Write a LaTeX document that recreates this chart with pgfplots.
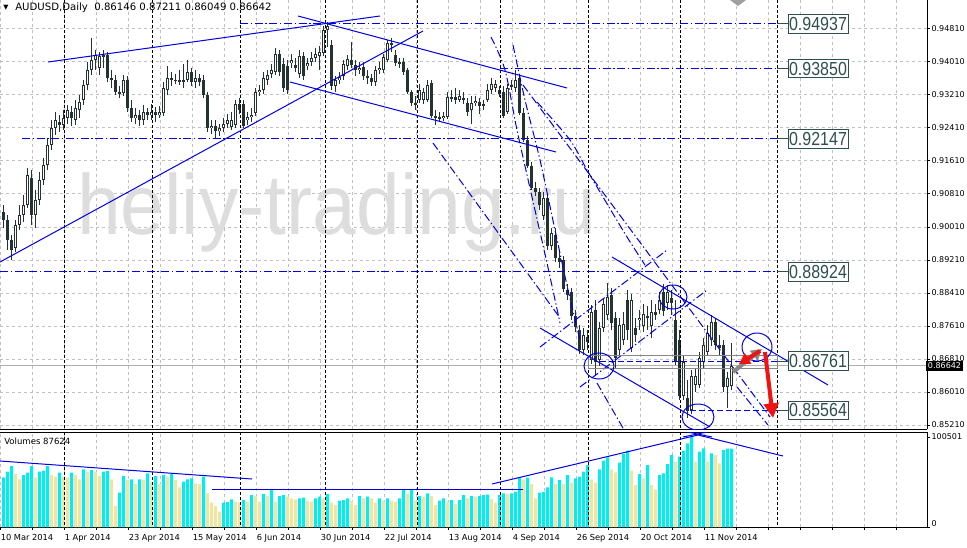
\documentclass[border=0pt]{standalone}
\usepackage{fontspec}
\setmainfont{DejaVu Sans}
\newfontfamily\lib{Liberation Sans}
\usepackage{pgfplots}
\usepackage{pgfplotstable}
\pgfplotsset{compat=1.18}
\usetikzlibrary{arrows.meta}
\definecolor{cndl}{RGB}{36,50,50}
\definecolor{gridc}{RGB}{192,192,192}
\definecolor{bl}{RGB}{0,0,225}
\definecolor{slate}{RGB}{47,79,79}
\definecolor{wmc}{RGB}{221,221,221}
\definecolor{vcy}{RGB}{0,238,238}
\definecolor{vkh}{RGB}{238,230,160}
\definecolor{arred}{RGB}{238,20,20}
\definecolor{argr}{RGB}{135,135,135}
\definecolor{cpl}{RGB}{175,175,175}
\tikzset{
 tl/.style={bl, line width=0.75pt},
 dd/.style={bl, line width=0.75pt, dash pattern=on 6pt off 2pt on 1pt off 2pt},
 dsh/.style={bl, line width=0.75pt, dash pattern=on 4.5pt off 2.25pt},
 sep/.style={black, line width=0.75pt, dash pattern=on 2.25pt off 1.5pt},
 lvbox/.style={draw=slate, line width=0.75pt, fill=white, text=slate, minimum width=45pt, minimum height=14pt, inner sep=0pt, font=\lib\fontsize{12}{12}\selectfont},
}
\newcommand\lv[1]{\scalebox{1}[1.18]{#1}}
\pgfplotsset{
 pxax/.style={scale only axis, width=695.25pt, anchor=south west},
}
\pgfplotstableread{
i o h l c v u
0 0.9037 0.9054 0.8998 0.9018 55428 1
1 0.9018 0.9030 0.8945 0.8969 61752 1
2 0.8969 0.8981 0.8921 0.8945 68076 1
3 0.8950 0.9018 0.8940 0.9006 59148 0
4 0.9006 0.9054 0.8993 0.9030 53196 0
5 0.9030 0.9078 0.9013 0.9054 58032 1
6 0.9054 0.9144 0.9047 0.9127 60636 1
7 0.9120 0.9139 0.9006 0.9030 68076 1
8 0.9030 0.9090 0.8998 0.9066 55428 0
9 0.9066 0.9134 0.9054 0.9115 61752 1
10 0.9115 0.9168 0.9103 0.9151 62868 1
11 0.9151 0.9216 0.9139 0.9200 68076 1
12 0.9200 0.9260 0.9187 0.9241 58032 0
13 0.9241 0.9280 0.9224 0.9260 56172 0
14 0.9255 0.9272 0.9231 0.9248 60636 1
15 0.9248 0.9284 0.9236 0.9265 56172 0
16 0.9265 0.9296 0.9250 0.9284 55428 0
17 0.9280 0.9294 0.9246 0.9265 60636 1
18 0.9260 0.9309 0.9248 0.9289 58032 0
19 0.9284 0.9321 0.9265 0.9304 53196 0
20 0.9309 0.9357 0.9296 0.9345 64356 1
21 0.9345 0.9401 0.9333 0.9381 61752 0
22 0.9381 0.9459 0.9369 0.9406 63612 1
23 0.9406 0.9430 0.9381 0.9418 61752 0
24 0.9386 0.9425 0.9369 0.9415 56916 0
25 0.9415 0.9430 0.9386 0.9418 61752 1
26 0.9418 0.9425 0.9352 0.9362 62496 1
27 0.9362 0.9381 0.9338 0.9357 53196 0
28 0.9357 0.9369 0.9321 0.9328 23436 0
29 0.9328 0.9343 0.9313 0.9326 38316 1
30 0.9326 0.9369 0.9318 0.9357 56916 1
31 0.9357 0.9367 0.9280 0.9289 52452 0
32 0.9289 0.9309 0.9255 0.9265 53196 1
33 0.9265 0.9289 0.9250 0.9272 47988 0
34 0.9272 0.9284 0.9246 0.9260 53196 1
35 0.9260 0.9296 0.9248 0.9280 52452 0
36 0.9280 0.9289 0.9260 0.9272 59892 1
37 0.9272 0.9299 0.9260 0.9280 50592 0
38 0.9280 0.9292 0.9255 0.9272 56916 1
39 0.9272 0.9294 0.9265 0.9280 47988 0
40 0.9277 0.9352 0.9270 0.9338 58032 1
41 0.9333 0.9391 0.9321 0.9362 56172 0
42 0.9362 0.9376 0.9343 0.9357 59148 1
43 0.9357 0.9372 0.9347 0.9356 52452 0
44 0.9357 0.9381 0.9345 0.9355 44268 0
45 0.9355 0.9396 0.9338 0.9357 50592 1
46 0.9357 0.9406 0.9352 0.9376 53196 1
47 0.9376 0.9386 0.9343 0.9352 54312 1
48 0.9352 0.9381 0.9338 0.9362 48732 0
49 0.9362 0.9372 0.9343 0.9352 47988 0
50 0.9357 0.9369 0.9313 0.9321 56172 1
51 0.9321 0.9328 0.9231 0.9241 37572 0
52 0.9241 0.9260 0.9226 0.9246 27156 0
53 0.9246 0.9260 0.9217 0.9233 23436 0
54 0.9233 0.9250 0.9221 0.9241 17112 0
55 0.9241 0.9265 0.9231 0.9250 27156 1
56 0.9250 0.9275 0.9241 0.9260 27900 1
57 0.9243 0.9280 0.9236 0.9260 30876 1
58 0.9248 0.9309 0.9241 0.9299 27900 0
59 0.9299 0.9313 0.9275 0.9284 27156 0
60 0.9299 0.9309 0.9241 0.9246 30132 1
61 0.9260 0.9280 0.9248 0.9267 28272 0
62 0.9267 0.9289 0.9255 0.9272 35712 1
63 0.9277 0.9338 0.9270 0.9328 34596 0
64 0.9328 0.9345 0.9318 0.9333 28272 0
65 0.9333 0.9376 0.9323 0.9362 36828 1
66 0.9357 0.9381 0.9345 0.9369 34596 0
67 0.9372 0.9396 0.9362 0.9381 41292 1
68 0.9376 0.9435 0.9369 0.9420 28272 0
69 0.9420 0.9430 0.9367 0.9376 34596 1
70 0.9396 0.9410 0.9328 0.9338 35712 1
71 0.9391 0.9406 0.9323 0.9333 33852 0
72 0.9398 0.9420 0.9386 0.9406 31992 0
73 0.9393 0.9410 0.9376 0.9386 30876 0
74 0.9372 0.9430 0.9362 0.9415 31992 1
75 0.9415 0.9425 0.9357 0.9367 32736 1
76 0.9391 0.9410 0.9381 0.9398 29016 0
77 0.9401 0.9425 0.9391 0.9410 28272 0
78 0.9410 0.9435 0.9401 0.9420 31992 1
79 0.9415 0.9440 0.9381 0.9425 33852 1
80 0.9423 0.9488 0.9415 0.9478 31992 0
81 0.9478 0.9498 0.9437 0.9488 36828 1
82 0.9442 0.9454 0.9333 0.9343 27156 0
83 0.9343 0.9367 0.9328 0.9357 24552 0
84 0.9357 0.9376 0.9347 0.9364 29388 1
85 0.9367 0.9406 0.9357 0.9396 30132 1
86 0.9391 0.9418 0.9381 0.9408 31992 1
87 0.9406 0.9449 0.9386 0.9393 29388 0
88 0.9393 0.9406 0.9367 0.9381 24552 0
89 0.9381 0.9401 0.9372 0.9386 34596 1
90 0.9389 0.9401 0.9357 0.9367 31992 0
91 0.9367 0.9381 0.9347 0.9362 33852 1
92 0.9362 0.9372 0.9343 0.9352 31992 0
93 0.9352 0.9391 0.9343 0.9381 27156 0
94 0.9381 0.9401 0.9372 0.9386 31992 1
95 0.9381 0.9420 0.9374 0.9413 29388 0
96 0.9406 0.9454 0.9401 0.9447 31992 1
97 0.9447 0.9459 0.9425 0.9442 29388 0
98 0.9418 0.9430 0.9391 0.9398 28272 0
99 0.9398 0.9410 0.9386 0.9401 31992 1
100 0.9401 0.9410 0.9369 0.9376 41292 1
101 0.9381 0.9386 0.9323 0.9328 37572 0
102 0.9328 0.9333 0.9294 0.9301 41292 1
103 0.9301 0.9318 0.9284 0.9296 29388 0
104 0.9309 0.9347 0.9301 0.9333 34596 1
105 0.9309 0.9338 0.9299 0.9328 33852 0
106 0.9309 0.9357 0.9304 0.9345 37572 1
107 0.9350 0.9357 0.9265 0.9270 34596 0
108 0.9270 0.9284 0.9248 0.9267 24552 0
109 0.9267 0.9280 0.9255 0.9265 29388 1
110 0.9265 0.9280 0.9258 0.9270 31992 1
111 0.9267 0.9328 0.9262 0.9316 28272 0
112 0.9313 0.9333 0.9304 0.9316 30132 1
113 0.9316 0.9338 0.9299 0.9309 25668 0
114 0.9309 0.9333 0.9304 0.9318 30132 1
115 0.9313 0.9328 0.9299 0.9311 35712 1
116 0.9301 0.9313 0.9270 0.9280 31992 0
117 0.9284 0.9318 0.9250 0.9301 34596 1
118 0.9301 0.9318 0.9294 0.9306 33852 0
119 0.9304 0.9313 0.9275 0.9294 34596 1
120 0.9299 0.9309 0.9284 0.9296 35712 1
121 0.9309 0.9347 0.9304 0.9333 36084 1
122 0.9333 0.9362 0.9323 0.9347 31248 0
123 0.9338 0.9357 0.9328 0.9347 27156 0
124 0.9333 0.9343 0.9316 0.9323 35712 1
125 0.9328 0.9343 0.9265 0.9270 37572 1
126 0.9280 0.9347 0.9275 0.9338 36828 0
127 0.9343 0.9357 0.9333 0.9345 37572 1
128 0.9338 0.9381 0.9328 0.9357 39432 1
129 0.9362 0.9372 0.9272 0.9277 55056 1
130 0.9277 0.9289 0.9207 0.9212 53196 0
131 0.9212 0.9221 0.9144 0.9149 55056 1
132 0.9149 0.9158 0.9090 0.9095 47988 0
133 0.9095 0.9110 0.9076 0.9086 31992 0
134 0.9086 0.9095 0.9042 0.9054 38316 1
135 0.9027 0.9086 0.9018 0.9071 39060 1
136 0.9071 0.9081 0.8945 0.8955 44268 1
137 0.8955 0.8998 0.8945 0.8986 55428 1
138 0.8981 0.8998 0.8916 0.8926 47988 0
139 0.8926 0.8940 0.8901 0.8916 52452 1
140 0.8921 0.8930 0.8843 0.8850 47988 0
141 0.8848 0.8863 0.8824 0.8836 58032 1
142 0.8843 0.8853 0.8775 0.8785 49476 0
143 0.8785 0.8800 0.8746 0.8758 54312 1
144 0.8751 0.8763 0.8693 0.8703 56172 1
145 0.8703 0.8756 0.8691 0.8739 61752 1
146 0.8734 0.8751 0.8703 0.8722 69192 1
147 0.8678 0.8812 0.8669 0.8795 53196 0
148 0.8800 0.8824 0.8642 0.8673 49476 0
149 0.8678 0.8770 0.8664 0.8756 64356 1
150 0.8756 0.8829 0.8746 0.8814 74028 1
151 0.8787 0.8865 0.8775 0.8831 77748 1
152 0.8836 0.8853 0.8751 0.8768 64356 0
153 0.8780 0.8795 0.8659 0.8683 61008 0
154 0.8703 0.8780 0.8688 0.8763 71796 1
155 0.8727 0.8795 0.8715 0.8766 81468 1
156 0.8824 0.8848 0.8727 0.8751 85188 1
157 0.8707 0.8838 0.8698 0.8824 62868 0
158 0.8756 0.8780 0.8722 0.8739 46872 0
159 0.8775 0.8800 0.8751 0.8780 59148 1
160 0.8761 0.8814 0.8746 0.8790 54312 0
161 0.8785 0.8809 0.8751 0.8780 69192 1
162 0.8761 0.8824 0.8732 0.8795 46872 0
163 0.8795 0.8814 0.8775 0.8787 42036 0
164 0.8800 0.8843 0.8790 0.8824 58032 1
165 0.8843 0.8863 0.8785 0.8797 59892 1
166 0.8817 0.8860 0.8800 0.8843 70308 1
167 0.8829 0.8848 0.8787 0.8817 80352 1
168 0.8775 0.8824 0.8666 0.8673 72912 0
169 0.8727 0.8751 0.8582 0.8591 78492 1
170 0.8591 0.8690 0.8582 0.8673 85188 1
171 0.8586 0.8630 0.8538 0.8555 93372 1
172 0.8557 0.8654 0.8547 0.8640 100501 1
173 0.8618 0.8659 0.8601 0.8640 72912 0
174 0.8618 0.8698 0.8610 0.8683 84072 1
175 0.8673 0.8732 0.8659 0.8715 87792 1
176 0.8698 0.8763 0.8688 0.8744 72912 0
177 0.8727 0.8787 0.8712 0.8770 82212 1
178 0.8770 0.8780 0.8703 0.8715 80352 0
179 0.8715 0.8739 0.8691 0.8707 71052 0
180 0.8715 0.8727 0.8601 0.8613 85932 1
181 0.8613 0.8649 0.8562 0.8635 87420 1
182 0.86146 0.87211 0.86049 0.86642 87624 1
}\data
\begin{document}
\begin{tikzpicture}
\useasboundingbox (0,0) rectangle (725.25pt,410.25pt);

% ---------- price panel ----------
\begin{axis}[pxax, at={(0pt,88.5pt)}, height=321.75pt,
 xmin=-0.875, xmax=230.875, ymin=0.85113, ymax=0.95513,
 axis x line*=bottom, axis y line*=right,
 axis line style={black, line width=0.75pt},
 xtick={-0.75,7.25,...,223.25}, xticklabels={}, major x tick style={draw=none},
 ytick={0.8521,0.8601,0.8681,0.8761,0.8841,0.8921,0.9001,0.9081,0.9161,0.9241,0.9321,0.9401,0.9481},
 grid=major, grid style={gridc, line width=0.75pt, dash pattern=on 2.25pt off 2.25pt},
 tick align=outside, major tick length=2.25pt, tick style={black, line width=0.75pt},
 y tick label style={font=\fontsize{6}{7}\selectfont, inner xsep=1pt, /pgf/number format/fixed, /pgf/number format/fixed zerofill, /pgf/number format/precision=5, /pgf/number format/assume math mode=true},
 scaled y ticks=false,
 extra y ticks={0.86642},
 extra y tick style={grid=major, major grid style={solid, cpl, line width=0.75pt}, major tick length=0pt,
   y tick label style={fill=black, text=white, inner xsep=1.5pt, inner ysep=1.8pt, anchor=west, xshift=-1pt}},
]
\node[anchor=base west, inner sep=0pt, text=wmc, font=\lib\fontsize{64}{64}\selectfont, xscale=0.92] at (axis cs:18.375,0.8984) {heliy-trading.ru};
% wicks
\addplot[draw=none, no markers, forget plot, error bars/.cd, y dir=both, y explicit, error mark=none,
  error bar style={draw=cndl, line width=0.75pt}]
  table[x=i, y expr=(\thisrow{h}+\thisrow{l})/2, y error expr=(\thisrow{h}-\thisrow{l})/2] {\data};
% bodies
\addplot[draw=none, no markers, forget plot, error bars/.cd, y dir=both, y explicit, error mark=none,
  error bar style={draw=cndl, line width=2.4pt}]
  table[x=i, y expr=(\thisrow{o}+\thisrow{c})/2, y error expr={max(abs(\thisrow{o}-\thisrow{c})/2,0.00012)}] {\data};
% hollow bull bodies
\addplot[draw=none, no markers, forget plot, error bars/.cd, y dir=both, y explicit, error mark=none,
  error bar style={draw=white, line width=0.9pt}]
  table[x=i, y expr=(\thisrow{o}+\thisrow{c})/2, y error expr={max((\thisrow{c}-\thisrow{o})/2-0.00024,0)}] {\data};
\end{axis}

% ---------- volume panel ----------
\begin{axis}[pxax, at={(0pt,15pt)}, height=71.25pt,
 xmin=-0.875, xmax=230.875, ymin=0, ymax=106086,
 axis x line*=box, axis y line*=right, xtick pos=left,
 axis line style={black, line width=0.75pt},
 xtick={-0.75,7.25,...,223.25},
 xticklabels={10 Mar 2014,,1 Apr 2014,,23 Apr 2014,,15 May 2014,,6 Jun 2014,,30 Jun 2014,,22 Jul 2014,,13 Aug 2014,,4 Sep 2014,,26 Sep 2014,,20 Oct 2014,,11 Nov 2014,,,,,,},
 x tick label style={anchor=north west, inner xsep=0pt, font=\fontsize{6.2}{7.5}\selectfont},
 ytick={0,100501}, yticklabels={\raisebox{4.5pt}{0},100501}, scaled y ticks=false,
 y tick label style={font=\fontsize{6}{7}\selectfont, inner xsep=1pt},
 xmajorgrids, grid style={gridc, line width=0.75pt, dash pattern=on 2.25pt off 2.25pt},
 tick align=outside, major tick length=2.25pt, tick style={black, line width=0.75pt},
]
\addplot[ybar, bar width=2.25pt, bar shift=0pt, fill=vcy, draw=none, forget plot]
  table[x=i, y expr=\thisrow{v}*\thisrow{u}] {\data};
\addplot[ybar, bar width=2.25pt, bar shift=0pt, fill=vkh, draw=none, forget plot]
  table[x=i, y expr=\thisrow{v}*(1-\thisrow{u})] {\data};
\end{axis}

% ---------- drawings on price panel (pixel frame) ----------
\begin{axis}[pxax, at={(0pt,88.5pt)}, height=321.75pt,
 xmin=0, xmax=927, ymin=0, ymax=429, y dir=reverse, hide axis]
\pgfplotsinvokeforeach{64.3,152.3,240.7,325,417,500,588,680,777}{\draw[sep] (axis cs:#1,0) -- (axis cs:#1,429);}
\node[anchor=west, inner sep=0pt, font=\fontsize{5}{5}\selectfont] at (axis cs:3,8) {▼};
\node[anchor=west, inner sep=0pt, font=\fontsize{7.6}{8}\selectfont] at (axis cs:15,8) {AUDUSD,Daily\ \ 0.86146 0.87211 0.86049 0.86642};
\fill[argr!80] (axis cs:730,0) -- (axis cs:746,0) -- (axis cs:738,6) -- cycle;
% trend lines
\draw[tl] (axis cs:48,62) -- (axis cs:380,16);
\draw[tl] (axis cs:0,262) -- (axis cs:423,31);
\draw[tl] (axis cs:298,16) -- (axis cs:567,88);
\draw[tl] (axis cs:290,82) -- (axis cs:556,152);
\draw[tl] (axis cs:612,257) -- (axis cs:828,385);
\draw[tl] (axis cs:540,328) -- (axis cs:710,427);
% dashed diagonals and arcs
\draw[dd] (axis cs:523,85) -- (axis cs:770,417);
\draw[dd] (axis cs:433,143) -- (axis cs:560,318);
\draw[dd] (axis cs:597,383) -- (axis cs:623,428);
\addplot[dd, smooth, forget plot] coordinates {(491,37) (505,70) (517,130) (532,197) (547,263) (560,323)};
\addplot[dd, smooth, forget plot] coordinates {(513,45) (525,100) (540,160) (555,230) (568,290) (580,340)};
\addplot[dd, smooth, forget plot] coordinates {(537,102) (570,140) (587,170) (603,197) (627,237) (645,265)};
\draw[dd] (axis cs:540,347) -- (axis cs:667,250);
\draw[dd] (axis cs:580,387) -- (axis cs:707,290);
\draw[dd] (axis cs:737,387) -- (axis cs:768,425);
% horizontal levels
\draw[dd] (axis cs:240,23.8) -- (axis cs:777,23.8);
\draw[dd] (axis cs:500,68.6) -- (axis cs:777,68.6);
\draw[dd] (axis cs:22,138.8) -- (axis cs:777,138.8);
\draw[dd] (axis cs:0,271.8) -- (axis cs:777,271.8);
\draw[dsh] (axis cs:600,361) -- (axis cs:777,361);
\draw[dsh] (axis cs:690,410.4) -- (axis cs:777,410.4);
\draw[argr, line width=0.75pt] (axis cs:588,355) rectangle (axis cs:777,368);
% ellipses
\draw[tl] (axis cs:673,297) ellipse [x radius=10.5pt, y radius=9pt];
\draw[tl] (axis cs:599,366) ellipse [x radius=11.25pt, y radius=9.75pt];
\draw[tl] (axis cs:698,417) ellipse [x radius=12pt, y radius=9.75pt];
\draw[tl] (axis cs:757,347) ellipse [x radius=11.25pt, y radius=10.5pt];
% arrows
\draw[argr, line width=3pt, -{Triangle[length=8pt,width=9pt]}] (axis cs:733,372) -- (axis cs:762,349);
\draw[arred, line width=3pt, -{Triangle[length=8pt,width=9pt]}] (axis cs:760,351) -- (axis cs:739,364);
\draw[arred, line width=3pt, -{Triangle[length=11pt,width=11pt]}] (axis cs:765,352) -- (axis cs:773,418);
% level boxes
\draw[slate, line width=0.75pt] (axis cs:777,23.8) -- (axis cs:788,23.8);
\draw[slate, line width=0.75pt] (axis cs:777,68.6) -- (axis cs:788,68.6);
\draw[slate, line width=0.75pt] (axis cs:777,138.8) -- (axis cs:788,138.8);
\draw[slate, line width=0.75pt] (axis cs:777,271.8) -- (axis cs:788,271.8);
\draw[slate, line width=0.75pt] (axis cs:777,361) -- (axis cs:788,361);
\draw[slate, line width=0.75pt] (axis cs:777,410.4) -- (axis cs:788,410.4);
\node[lvbox] at (axis cs:818,23.8) {\lv{0.94937}};
\node[lvbox] at (axis cs:818,68.6) {\lv{0.93850}};
\node[lvbox] at (axis cs:818,138.8) {\lv{0.92147}};
\node[lvbox] at (axis cs:818,271.8) {\lv{0.88924}};
\node[lvbox] at (axis cs:818,361) {\lv{0.86761}};
\node[lvbox] at (axis cs:818,410.4) {\lv{0.85564}};
\end{axis}

% ---------- drawings on volume panel ----------
\begin{axis}[pxax, at={(0pt,15pt)}, height=71.25pt,
 xmin=0, xmax=927, ymin=432, ymax=527, y dir=reverse, hide axis]
\pgfplotsinvokeforeach{64.3,152.3,240.7,325,417,500,588,680,777}{\draw[sep] (axis cs:#1,432) -- (axis cs:#1,527);}
\draw[tl] (axis cs:0,461) -- (axis cs:252,479);
\draw[tl] (axis cs:212,489) -- (axis cs:523,489);
\draw[tl] (axis cs:492,484) -- (axis cs:698,435);
\draw[tl] (axis cs:698,435) -- (axis cs:783,456);
\draw[tl] (axis cs:683,437) -- (axis cs:712,431);
\draw[tl] (axis cs:683,431) -- (axis cs:712,437);
\node[anchor=west, inner sep=0pt, font=\fontsize{6.4}{7.5}\selectfont] at (axis cs:4,441) {Volumes 87624};
\end{axis}
\end{tikzpicture}
\end{document}
